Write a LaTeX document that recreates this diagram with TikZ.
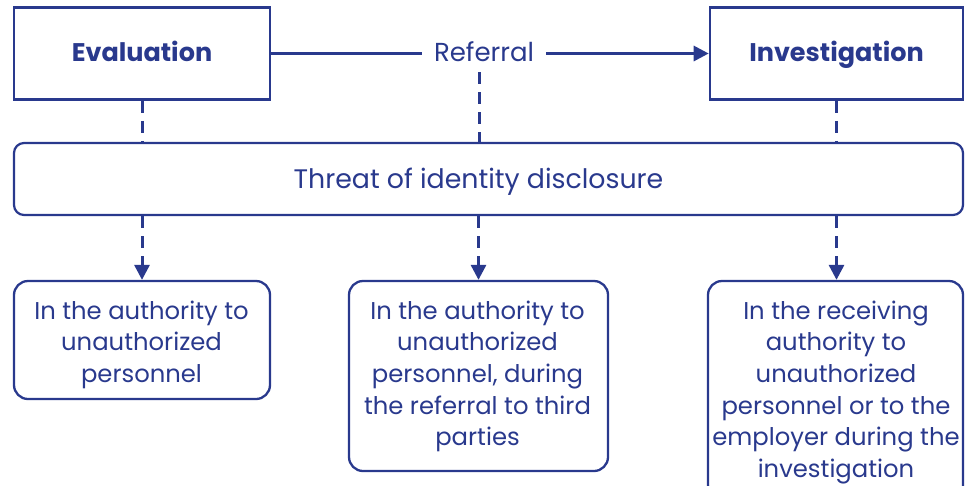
\documentclass[tikz,border=0pt]{standalone}
\usepackage{fontspec}
\setmainfont{Poppins}
\usetikzlibrary{arrows.meta}
\definecolor{navy}{RGB}{41,57,141}
\begin{document}
\begin{tikzpicture}[x=1pt,y=-1pt,
  every node/.style={text=navy},
  topbox/.style={draw=navy,line width=2.6pt,minimum height=92pt,inner sep=0pt,
    text height=15pt,text depth=0pt,
    font=\fontsize{25.5}{30}\selectfont\bfseries},
  lowbox/.style={draw=navy,line width=2.3pt,rounded corners=14pt,inner sep=0pt},
  bodytext/.style={font=\fontsize{24.3}{31.6}\selectfont,align=center,inner sep=0pt,anchor=north},
  conn/.style={draw=navy,line width=3pt},
  dashline/.style={conn,dash pattern=on 12pt off 8pt},
  dasharrow/.style={dashline,-{Triangle[length=15pt,width=15pt]}},
  solidarrow/.style={conn,-{Triangle[length=15pt,width=15pt]}}]
\useasboundingbox (0,0) rectangle (965,485);
% top row
\node[topbox,minimum width=256pt] (ev) at (142,53.5) {Evaluation};
\node[topbox,minimum width=253pt] (inv) at (836.5,53.5) {Investigation};
\node[font=\fontsize{26}{30}\selectfont,text height=20pt,text depth=0pt,
  inner xsep=12pt,inner ysep=10pt] (ref) at (484,51) {Referral};
\draw[conn] (ev.east) -- (ev.east -| ref.west);
\draw[solidarrow] (ref.east |- inv.west) -- (inv.west);
% threat bar
\node[lowbox,line width=2.2pt,rounded corners=10pt,minimum width=949pt,minimum height=72pt] (thr) at (488.5,179) {};
\node[font=\fontsize{26.8}{30}\selectfont,inner sep=0pt,anchor=base] (thrtext) at (478.5,188) {Threat of identity disclosure};
\coordinate (refdrop) at (479,72);
\draw[dashline] (ev.south) -- (ev.south |- thr.north);
\draw[dashline] (refdrop) -- (refdrop |- thr.north);
\draw[dashline] (inv.south) -- (inv.south |- thr.north);
% bottom boxes
\node[lowbox,minimum width=256pt,minimum height=118pt] (b1) at (142,340) {};
\node[lowbox,minimum width=259pt,minimum height=190pt] (b2) at (478.5,376) {};
\node[lowbox,minimum width=255pt,minimum height=218pt] (b3) at (835.5,390) {};
\node[bodytext] (t1) at (141.5,297) {\strut In the authority to\\unauthorized\\personnel};
\node[bodytext] (t2) at (477.5,297) {\strut In the authority to\\unauthorized\\personnel, during\\the referral to third\\parties};
\node[bodytext] (t3) at (836,297) {\strut In the receiving\\authority to\\unauthorized\\personnel or to the\\employer during the\\investigation};
\draw[dasharrow] (thr.south -| b1.north) -- (b1.north);
\draw[dasharrow] (thr.south -| b2.north) -- (b2.north);
\draw[dasharrow] (thr.south -| inv.south) -- (inv.south |- b3.north);
\end{tikzpicture}
\end{document}
